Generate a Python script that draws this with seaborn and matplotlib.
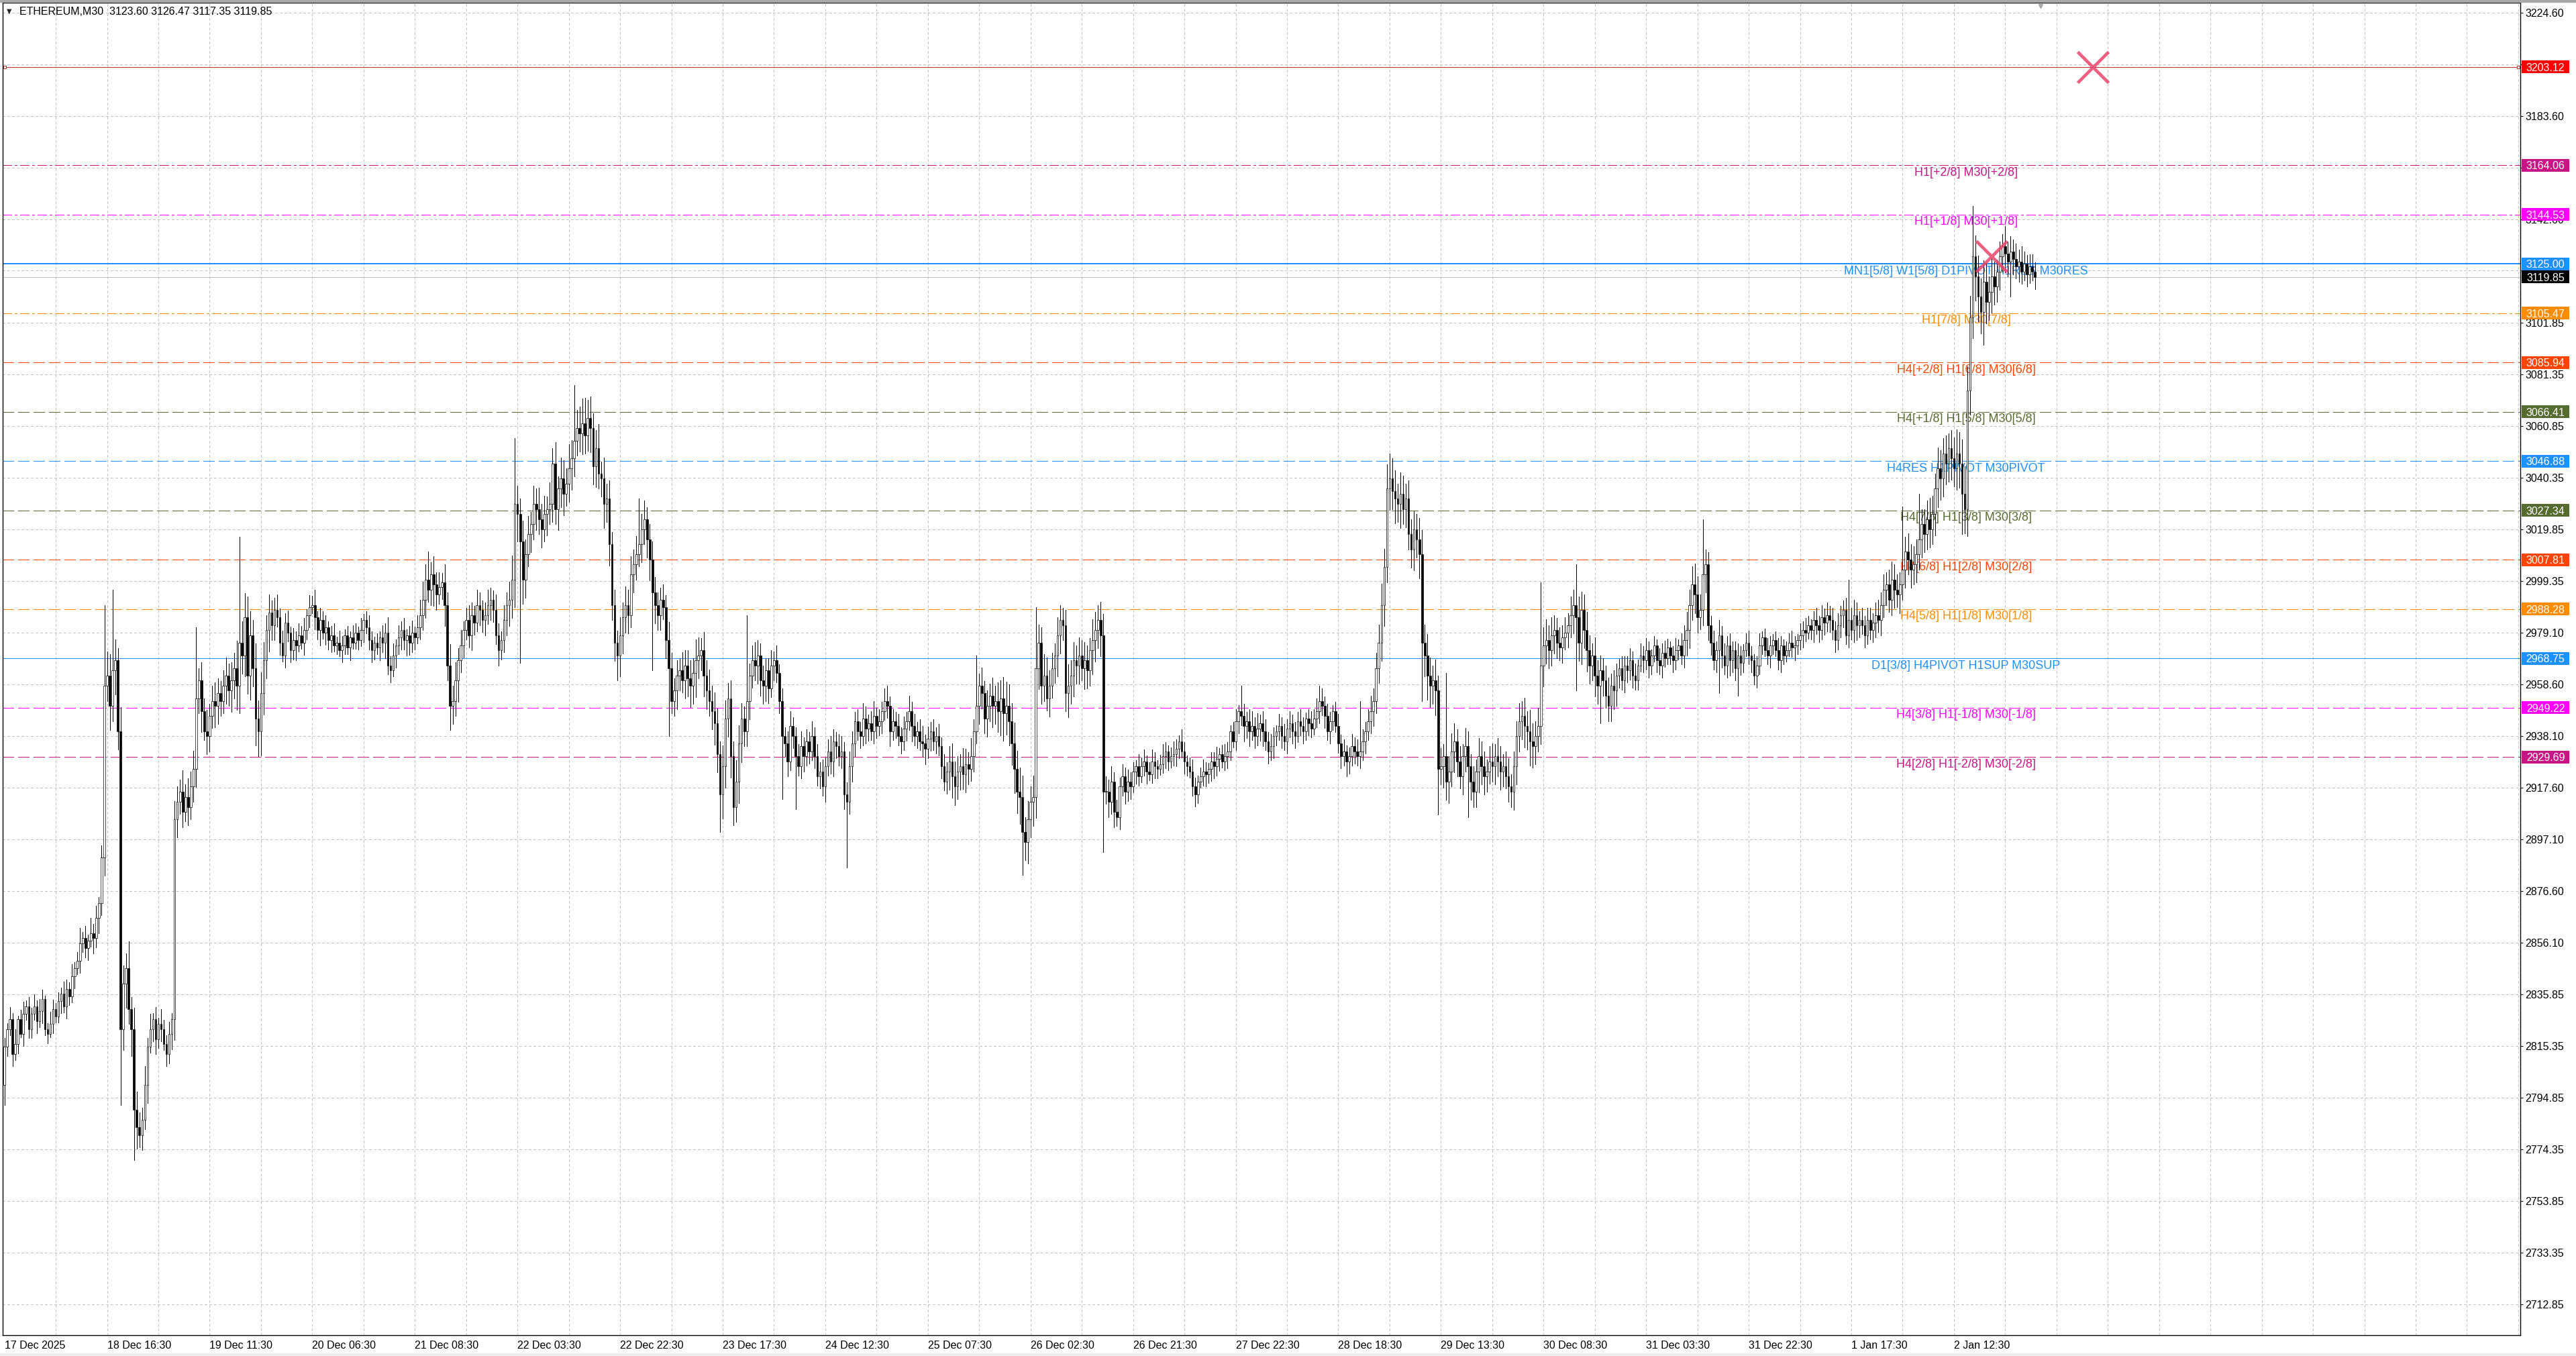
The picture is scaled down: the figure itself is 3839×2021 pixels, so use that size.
import matplotlib
matplotlib.use("Agg")
import matplotlib.pyplot as plt
import matplotlib.transforms as mtransforms
import numpy as np
import pandas as pd
import seaborn as sns
from matplotlib import font_manager
from matplotlib.patches import Rectangle

# ETHEREUM M30, 17 Dec 2025 .. 2 Jan 2026 -- closes
first_open = 2800
closes_a = [
    2815, 2822, 2826, 2812, 2816, 2826, 2820, 2828, 2831, 2822,
    2828, 2831, 2825, 2829, 2834, 2822, 2820, 2824, 2830, 2827,
    2833, 2836, 2831, 2838, 2835, 2843, 2846, 2849, 2856, 2858,
    2854, 2857, 2860, 2858, 2866, 2872, 2890, 2958, 2962, 2950,
    2964, 2968, 2940, 2822,
    2840, 2846, 2830, 2822, 2790, 2783, 2780, 2786, 2800,
    2815, 2822, 2826, 2818, 2824, 2822, 2816, 2812, 2820, 2826,
    2905,
    2912, 2916, 2908, 2914, 2910, 2918, 2925,
    2953, 2960,
    2948, 2940, 2938, 2946, 2952, 2950, 2955, 2952, 2958, 2962, 2956, 2960, 2965, 2958,
    2975, 2970, 2985, 2962, 2978, 2965,
    2945, 2940, 2955,
    2968, 2980, 2987, 2982, 2988,
    2985, 2975, 2970, 2983, 2979, 2972, 2976, 2974, 2978, 2975, 2980, 2986,
    2989, 2990, 2985, 2980, 2984, 2979, 2981, 2976, 2978, 2974, 2975, 2972,
    2974, 2978, 2973, 2977, 2975, 2979, 2976, 2980, 2984, 2981, 2976, 2972, 2975, 2973, 2977, 2975, 2979,
    2966, 2964, 2970, 2974,
    2977, 2980, 2976, 2978, 2975, 2979, 2977, 2981,
    2986, 2992, 3000, 2996, 3002, 2998, 2994,
    2997, 2999, 2990,
    2966, 2950, 2952,
    2960, 2968, 2974, 2980, 2984, 2978,
    2986, 2983, 2990, 2988, 2984, 2986, 2990, 2992, 2988,
    2978, 2972, 2976,
    2984, 2990, 2992,
    3000, 3030, 3026, 3015, 3000,
]
closes_b = [
    3010, 3018, 3022, 3030, 3028, 3024, 3020, 3026, 3028, 3030, 3046, 3028,
    3036, 3040, 3034, 3038, 3044,
    3048, 3055, 3060, 3058, 3062, 3057, 3064, 3060,
    3045, 3052, 3042, 3040,
    3030, 3032, 3014,
    2990, 2975, 2970,
    2978, 2985, 2990, 2986, 3002,
    3006, 3010, 3014, 3020, 3024,
    3016, 3008, 2995,
    2990, 2986, 2992, 2989,
    2976, 2965, 2952,
    2956, 2962, 2964, 2960, 2966, 2961, 2958, 2963, 2968, 2970, 2972,
    2962, 2956, 2952, 2948, 2943,
    2931, 2915, 2926,
    2945, 2953,
    2930, 2910, 2920,
    2935, 2945, 2940, 2952,
    2962, 2968, 2966, 2970,
    2960, 2958, 2964, 2957, 2966, 2968,
    2963, 2952, 2938,
    2935, 2928, 2942, 2938, 2930, 2926, 2934, 2930, 2936, 2932, 2938,
    2930, 2922, 2924, 2918, 2926, 2932, 2928, 2936, 2934, 2930, 2932,
    2915, 2912, 2926,
    2935, 2944, 2940,
    2938, 2945, 2941, 2943, 2940, 2946, 2942, 2944, 2948, 2952, 2950, 2940, 2944,
    2942, 2938, 2936, 2941, 2944, 2948, 2942, 2938, 2940, 2936, 2935, 2933, 2937, 2940, 2936, 2938, 2934,
    2926, 2920, 2924, 2928, 2922, 2918,
    2924, 2926, 2923, 2927, 2925, 2930,
    2940, 2950, 2958, 2955, 2945,
    2950, 2954, 2950, 2952, 2948, 2953, 2947, 2950, 2944,
    2935, 2925, 2916, 2914,
    2900, 2896, 2905,
    2912, 2914,
    2965, 2975,
    2958, 2962, 2953, 2958,
]
closes_c = [
    2965, 2970, 2978, 2984, 2982,
    2955, 2958, 2962,
    2968, 2966, 2970, 2965, 2968, 2964, 2972, 2976, 2980, 2984,
    2978, 2916,
    2916, 2912, 2920, 2908, 2906, 2918, 2922, 2916, 2920, 2918,
    2924, 2926, 2922, 2926, 2928, 2924, 2923, 2928, 2926, 2925,
    2927, 2930, 2932, 2928, 2930, 2931, 2933, 2936, 2932, 2928,
    2926, 2924, 2918, 2915, 2920, 2922, 2924, 2923, 2925, 2928,
    2926, 2929, 2931, 2928, 2930, 2932,
    2940, 2936, 2944, 2948, 2946,
    2942, 2944, 2940, 2942, 2938, 2941, 2943, 2940,
    2936, 2932, 2934, 2938,
    2940, 2942, 2938, 2936, 2941, 2943, 2940, 2938, 2944, 2942, 2940, 2945, 2943, 2941, 2945, 2948,
    2952, 2950,
    2946, 2940, 2944, 2948, 2942,
    2935, 2930, 2932, 2928, 2930, 2934, 2932, 2930, 2932,
    2936, 2940, 2944, 2948, 2952,
    2965, 2975, 2990, 3005, 3036,
    3040, 3035, 3032, 3030, 3034, 3028, 3032,
    3018, 3012, 3020, 3016, 3010,
    2975, 2970,
    2962, 2958, 2960, 2956,
    2925,
    2926, 2930, 2920, 2924, 2932, 2936, 2928, 2922, 2930, 2934,
    2926, 2920, 2916, 2924, 2930, 2926, 2922, 2924, 2928, 2926,
    2930, 2928, 2924, 2926, 2922, 2918, 2916, 2926,
    2938, 2944, 2946, 2942, 2940,
    2936, 2934, 2938, 2942,
    2966, 2974,
    2976, 2972, 2978, 2980, 2975, 2973, 2977, 2979, 2982, 2986,
]
closes_d = [
    2990, 2985, 2975, 2988, 2980,
    2972, 2966, 2970, 2962, 2958, 2964, 2960, 2954, 2950, 2958, 2956,
    2962, 2965, 2960, 2966, 2964, 2968, 2962, 2960, 2966,
    2970, 2968, 2972, 2966, 2970, 2974, 2968, 2966, 2971, 2969, 2973, 2970, 2968, 2972, 2974, 2970, 2976, 2980,
    2990, 2998, 2994, 2985, 2988, 3002, 3006,
    2982, 2975, 2968, 2972, 2978, 2970, 2966, 2974, 2968, 2972, 2965, 2970, 2967,
    2972, 2975, 2970, 2968, 2962, 2966, 2974, 2977, 2972, 2970, 2974, 2976, 2972, 2968, 2974, 2970, 2972, 2975, 2973,
    2974, 2976, 2978, 2980, 2979, 2982, 2980, 2984, 2982, 2980, 2985, 2983, 2986,
    2984, 2980, 2976, 2982, 2986, 2988, 2978, 2984, 2980, 2986, 2982, 2984,
    2982, 2978, 2984, 2980, 2983, 2986, 2984,
    2990, 2996, 2998, 2992, 3000, 2996, 2994,
    2998, 3004, 3011,
    3008, 3004, 3006, 3010,
    3016, 3022, 3018, 3024, 3020, 3026,
    3036, 3044, 3040, 3050, 3046,
    3052, 3048, 3044, 3050, 3046,
    3034, 3028,
    3075, 3104, 3128,
    3120, 3112, 3106, 3118, 3110, 3114,
    3120, 3116, 3122, 3128,
    3132, 3129, 3126, 3130,
    3127, 3124, 3126, 3122, 3125, 3121, 3124, 3122, 3119.85,
]

# wick lengths per bar, one digit per bar, in units of wick_unit dollars
wick_unit = 1.2
wick_up_a = ("3242513423 2424312432 3243242352 4253424687 6748659476 5463524253 3426547465 6546474565 4564659878 7858676564 "
             "4534342434 3424352434 2342432324 3242343232 4353424342 3424565746 4536475645 3454354345 4354354687 657")
wick_dn_a = ("6324231423 3242423132 2424324243 3425354658 5869785967 4536245342 4357645364 5657365476 5465768967 6869587675 "
             "5342434352 2434243524 3423243242 2324234324 3534243435 4342456457 5347586574 4345435453 5435345769 968")
wick_up_b = ("5646575647 5747658676 7856756847 5645465656 5645645654 4546545465 5657646575 6547656576 5464565454 4535343453 "
             "3453435343 4345434534 5434354345 3434534343 4353434534 3434343565 5465464546 4546566787 6768756576 65765")
wick_dn_b = ("6465756475 6576746765 6765867568 6756576564 6546567465 5465456546 6768657656 7658767657 6556456565 5353454534 "
             "4345343434 3534543453 4543435434 4343453434 3435343453 4343434676 4656545465 5657678978 7879867687 76546")
wick_up_c = ("5465457565 6565476567 5453434343 3243423432 3432343243 2343234323 3423432342 4434535344 3432434343 3343234343 "
             "4343234342 3434343454 5676865757 6565657867 6575646566 4546545465 5456465456 4556565765 6567565454 546")
wick_dn_c = ("4576568676 6476587678 4545343434 2432342343 2343234324 3234323434 4342343234 3545343453 4343343434 4234343234 "
             "3434323435 4343434345 4567576868 5656768978 7686576757 5465465576 6545656545 5665676876 5676656545 454")
wick_up_d = ("5676565465 5456454343 3434243432 3243432342 4565676545 4343534343 3432343234 2343234323 3432434323 4343434343 "
             "3434543434 4345454565 5465656545 5676576565 6787898767 7676565454 5454545434 43")
wick_dn_d = ("6567676576 6545565434 4343324343 2434323433 3456565456 5434343454 4343234343 3234323432 2343343234 3434343434 "
             "4343454343 3454545456 4656565656 6565767676 7678789878 8767676565 6545454343 34")

# long single wicks
spike_high_bars = [37, 40, 71, 87, 157, 189, 211, 215, 235, 275, 327, 360, 382, 391, 458, 487, 502,
                   513, 514, 534, 569, 582, 629, 683, 703, 709, 729, 741]
spike_high_vals = [2990, 2996, 2981, 3017, 3011, 3056, 3077, 3072, 3032, 2986, 2958, 2970, 2989, 2990, 2958,
                   2958, 2952, 3050, 3048, 2963, 2999, 3006, 3024, 3000, 3029, 3034, 3148, 3140]
dip_low_bars = [0, 43, 48, 94, 165, 191, 227, 240, 246, 265, 270, 288, 293, 312, 377, 394, 407, 411,
                525, 531, 542, 559, 582, 591, 635, 642, 725, 733, 743]
dip_low_vals = [2792, 2792, 2770, 2930, 2942, 2967, 2960, 2964, 2938, 2900, 2903, 2913, 2909, 2886, 2883,
                2950, 2892, 2904, 2952, 2907, 2906, 2909, 2956, 2943, 2955, 2954, 3018, 3093, 3112]

level_prices = [3203.12, 3164.06, 3144.53, 3125.00, 3105.47, 3085.94, 3066.41,
                3046.88, 3027.34, 3007.81, 2988.28, 2968.75, 2949.22, 2929.69]
level_labels = ["", "H1[+2/8] M30[+2/8]", "H1[+1/8] M30[+1/8]", "MN1[5/8] W1[5/8] D1PIVOT H1RES M30RES",
                "H1[7/8] M30[7/8]", "H4[+2/8] H1[6/8] M30[6/8]", "H4[+1/8] H1[5/8] M30[5/8]",
                "H4RES H1PIVOT M30PIVOT", "H4[7/8] H1[3/8] M30[3/8]", "H4[6/8] H1[2/8] M30[2/8]",
                "H4[5/8] H1[1/8] M30[1/8]", "D1[3/8] H4PIVOT H1SUP M30SUP", "H4[3/8] H1[-1/8] M30[-1/8]",
                "H4[2/8] H1[-2/8] M30[-2/8]"]
level_colors = ["#FF0000", "#C71585", "#FF00FF", "#1E90FF", "#FF8C00", "#FF4500", "#556B2F",
                "#1E90FF", "#556B2F", "#FF4500", "#FF8C00", "#1E90FF", "#FF00FF", "#C71585"]
level_styles = ["solid", "dashdot", "dashdot", "solid", "dashdot", "dashed", "dashed",
                "dashed", "dashed", "dashed", "dashed", "solid", "dashed", "dashed"]
last_price = 3119.85

cross_bars = [773.5, 736]
cross_prices = [3203.12, 3128.1]

y_ticks = [3224.60, 3204.10, 3183.60, 3163.10, 3142.60, 3122.35, 3101.85, 3081.35, 3060.85, 3040.35,
           3019.85, 2999.35, 2979.10, 2958.60, 2938.10, 2917.60, 2897.10, 2876.60, 2856.10, 2835.85,
           2815.35, 2794.85, 2774.35, 2753.85, 2733.35, 2712.85]
x_tick_labels = ["17 Dec 2025", "18 Dec 16:30", "19 Dec 11:30", "20 Dec 06:30", "21 Dec 08:30",
                 "22 Dec 03:30", "22 Dec 22:30", "23 Dec 17:30", "24 Dec 12:30", "25 Dec 07:30",
                 "26 Dec 02:30", "26 Dec 21:30", "27 Dec 22:30", "28 Dec 18:30", "29 Dec 13:30",
                 "30 Dec 08:30", "31 Dec 03:30", "31 Dec 22:30", "1 Jan 17:30", "2 Jan 12:30"]
bars_per_label = 38
header_text = "ETHEREUM,M30  3123.60 3126.47 3117.35 3119.85"

sns.set_style("white")
names = {f.name for f in font_manager.fontManager.ttflist}
ui_font = "Liberation Sans" if "Liberation Sans" in names else "DejaVu Sans"
plt.rcParams["font.family"] = [ui_font, "DejaVu Sans"]
plt.rcParams["lines.scale_dashes"] = False


def digits(s):
    return np.array([int(ch) for ch in s.replace(" ", "")], dtype=float)


closes = np.array(closes_a + closes_b + closes_c + closes_d, dtype=float)
wick_up = np.concatenate([digits(s) for s in (wick_up_a, wick_up_b, wick_up_c, wick_up_d)]) * wick_unit
wick_dn = np.concatenate([digits(s) for s in (wick_dn_a, wick_dn_b, wick_dn_c, wick_dn_d)]) * wick_unit
if not (len(closes) == len(wick_up) == len(wick_dn)):
    raise ValueError(f"length mismatch {len(closes)} {len(wick_up)} {len(wick_dn)}")

df = pd.DataFrame({"bar": np.arange(len(closes)), "close": closes})
df["open"] = np.r_[first_open, closes[:-1]]
df["high"] = np.maximum(df.open, df.close) + wick_up
df["low"] = np.minimum(df.open, df.close) - wick_dn
for b, v in zip(spike_high_bars, spike_high_vals):
    df.loc[b, "high"] = max(df.loc[b, "high"], v)
for b, v in zip(dip_low_bars, dip_low_vals):
    df.loc[b, "low"] = min(df.loc[b, "low"], v)

W, H = 3839, 2021
fig = plt.figure(figsize=(W / 100, H / 100), dpi=100)
ax = fig.add_axes([4 / W, 31 / H, 3752 / W, 1986 / H])
ymin, ymax = 2700.75, 3228.5
ax.set_xlim(-0.65, 931.76)
ax.set_ylim(ymin, ymax)

# grid
grid_kw = dict(color="#C4C4C4", lw=0.72, ls=(0, (2.5, 2.5)), zorder=0.5, antialiased=False)
for y in y_ticks:
    ax.axhline(y, **grid_kw)
for b in range(bars_per_label // 2, 932, bars_per_label // 2):
    ax.axvline(b, **grid_kw)

# levels
dash_map = {"solid": "-", "dashed": (0, (12, 5)), "dashdot": (0, (9.5, 3.5, 2.8, 3.5))}
label_bar = 726.5
for price, label, color, style in zip(level_prices, level_labels, level_colors, level_styles):
    lw = 1.44 if price == 3125.00 else 0.72
    lc = "#C0302A" if price == 3203.12 else color
    ax.axhline(price, color=lc, lw=lw, ls=dash_map[style], zorder=1, antialiased=False)
    if label:
        ax.annotate(label, (label_bar, price), xytext=(0, -1.5), textcoords="offset points",
                    ha="center", va="top", color=color, fontsize=13, zorder=1.5)
ax.plot([0.1, 931.0], [3203.12, 3203.12], ls="none", marker="s", ms=3.5, mfc="white",
        mec="#C0302A", mew=0.8, clip_on=False, zorder=1.2)
ax.axhline(last_price, color="#C0C0C0", lw=0.72, zorder=1, antialiased=False)

# candles: black wicks, white bull bodies, black bear bodies
bull = df.close >= df.open
ax.vlines(df.bar, df.low, df.high, color="black", lw=0.72, zorder=2, antialiased=False)
body = (df.close - df.open).abs().clip(lower=0.3)
ax.bar(df.bar, body, bottom=np.minimum(df.open, df.close), width=0.66,
       color=np.where(bull, "white", "black"), edgecolor="black", linewidth=0.5, zorder=2.2)

sns.scatterplot(x=cross_bars, y=cross_prices, marker="x", s=1100, color="#E8456B",
                linewidth=3.4, alpha=0.85, zorder=4, ax=ax, legend=False)
ax.plot([754], [ymax - 1.2], marker="v", ms=5, color="#A8A8A8", ls="none", clip_on=False, zorder=6)

# axes
for sp in ax.spines.values():
    sp.set_color("black")
    sp.set_linewidth(1.0)
ax.yaxis.tick_right()
ax.set_yticks(y_ticks)
ax.set_yticklabels([f"{v:.2f}" for v in y_ticks], fontsize=11.5, color="black")
ax.tick_params(axis="y", direction="out", length=3, width=0.75, pad=2.5, colors="black")
ax.set_xticks(np.arange(len(x_tick_labels)) * bars_per_label)
ax.set_xticklabels(x_tick_labels, ha="left", fontsize=11.5, color="black")
ax.tick_params(axis="x", direction="out", length=3, width=0.75, pad=3, colors="black")
ax.set_xlabel("")
ax.set_ylabel("")

# price boxes on the right scale
trans = mtransforms.blended_transform_factory(ax.transAxes, ax.transData)
px_x = 1 / 3752
px_y = (ymax - ymin) / 1986
box_prices = level_prices + [last_price]
box_colors = level_colors + ["black"]
for price, color in zip(box_prices, box_colors):
    ax.add_patch(Rectangle((1 + 2 * px_x, price - 9.5 * px_y), 71 * px_x, 19 * px_y, transform=trans,
                           facecolor=color, edgecolor="none", clip_on=False, zorder=5))
    ax.text(1 + 37.5 * px_x, price, f"{price:.2f}", transform=trans, ha="center", va="center_baseline",
            color="white", fontsize=11.5, zorder=6, clip_on=False)

# header and window trim
fig.text(10 / W, 1 - 17 / H, "\u25bc", fontsize=7, va="center", ha="left", family=["DejaVu Sans"])
fig.text(29 / W, 1 - 17 / H, header_text, fontsize=11.5, va="center", ha="left", color="black")
fig.add_artist(Rectangle((0, 1 - 3 / H), 1, 3 / H, transform=fig.transFigure, color="#A8A8A8"))
fig.add_artist(Rectangle((0, 0), 1, 4 / H, transform=fig.transFigure, color="#EDEDED"))

fig.savefig("out.png", dpi=100, facecolor="white")
